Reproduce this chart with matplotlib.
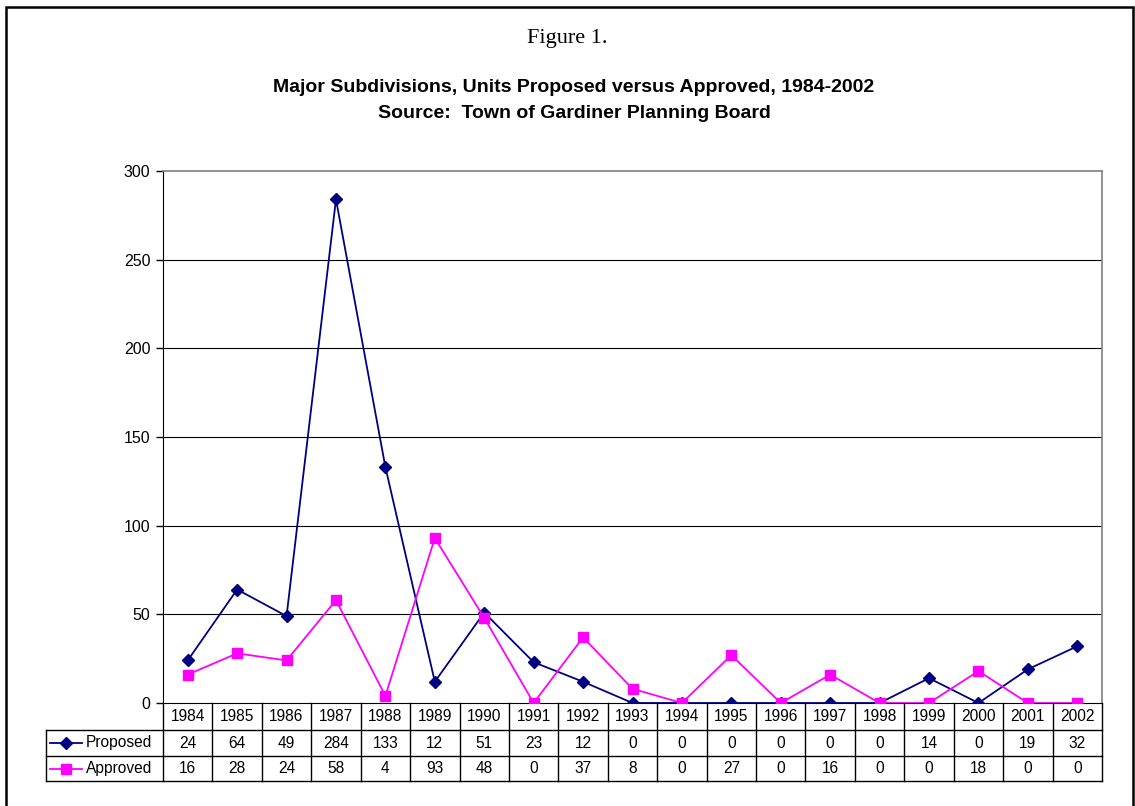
import numpy as np
import matplotlib
matplotlib.use("Agg")
from matplotlib import pyplot as plt
from matplotlib.patches import Rectangle
from matplotlib.lines import Line2D
from matplotlib.transforms import blended_transform_factory

years = ['1984', '1985', '1986', '1987', '1988', '1989', '1990', '1991', '1992', '1993',
         '1994', '1995', '1996', '1997', '1998', '1999', '2000', '2001', '2002']
proposed = [24, 64, 49, 284, 133, 12, 51, 23, 12, 0, 0, 0, 0, 0, 0, 14, 0, 19, 32]
approved = [16, 28, 24, 58, 4, 93, 48, 0, 37, 8, 0, 27, 0, 16, 0, 0, 18, 0, 0]
yticks = [0, 50, 100, 150, 200, 250, 300]

navy = '#000080'
magenta = '#FF00FF'
sans = ['Liberation Sans', 'DejaVu Sans']
fs = 11.2

W, H = 1135, 806
fig = plt.figure(figsize=(W / 100, H / 100), dpi=100)

# outer frame
fig.patches.append(Rectangle((6 / W, -0.01), (1133 - 6) / W, 1.01 - 7 / H, transform=fig.transFigure,
                             fill=False, edgecolor='black', linewidth=1.8))

fig.text(567 / W, 1 - 38 / H, 'Figure 1.', ha='center', va='center',
         family=['Liberation Serif', 'DejaVu Serif'], fontsize=16)
fig.text(574 / W, 1 - 88 / H, 'Major Subdivisions, Units Proposed versus Approved, 1984-2002',
         ha='center', va='center', family=sans, fontsize=14, fontweight='bold')
fig.text(574 / W, 1 - 113 / H, 'Source:  Town of Gardiner Planning Board',
         ha='center', va='center', family=sans, fontsize=14, fontweight='bold')

left, right, top, bottom = 163, 1102, 171, 703
ax = fig.add_axes([left / W, 1 - bottom / H, (right - left) / W, (bottom - top) / H])

x = np.arange(len(years))
ax.plot(x, proposed, color=navy, marker='D', markersize=6.5, linewidth=1.3, zorder=3)
ax.plot(x, approved, color=magenta, marker='s', markersize=6.5, linewidth=1.3, zorder=3)

ax.set_xlim(-0.5, len(years) - 0.5)
ax.set_ylim(0, 300)
ax.set_yticks(yticks)
ax.set_yticklabels([str(t) for t in yticks], family=sans, fontsize=11.5)
ax.set_xticks([])
ax.tick_params(axis='y', direction='out', length=5, width=1, pad=4)
for t in yticks[1:-1]:
    ax.axhline(t, color='black', linewidth=0.8, zorder=1)
ax.spines['left'].set_color('black')
ax.spines['bottom'].set_color('black')
for side in ['top', 'right']:
    ax.spines[side].set_color('#808080')
    ax.spines[side].set_linewidth(1.2)

# data table below the axes
trans = blended_transform_factory(ax.transData, ax.transAxes)
ah = bottom - top
row_edges = [0, -(730 - bottom) / ah, -(756 - bottom) / ah, -(781 - bottom) / ah]
lab_left = (46 - left) / (right - left) * len(years) - 0.5

kw = dict(transform=trans, clip_on=False, color='black', linewidth=1)
for i in range(len(years) + 1):
    ax.add_line(Line2D([i - 0.5, i - 0.5], [row_edges[0], row_edges[3]], **kw))
for r in row_edges[1:]:
    ax.add_line(Line2D([lab_left, len(years) - 0.5], [r, r], **kw))
ax.add_line(Line2D([lab_left, lab_left], [row_edges[1], row_edges[3]], **kw))

rows = [years, [str(v) for v in proposed], [str(v) for v in approved]]
for r, vals in enumerate(rows):
    yc = (row_edges[r] + row_edges[r + 1]) / 2
    for i, v in enumerate(vals):
        ax.text(i, yc, v, transform=trans, ha='center', va='center',
                family=sans, fontsize=fs, clip_on=False)

# legend keys in the label column
key_x0 = lab_left + 0.08
key_x1 = lab_left + 0.73
for r, (name, col, mk, ms) in enumerate([('Proposed', navy, 'D', 6), ('Approved', magenta, 's', 6.5)]):
    yc = (row_edges[r + 1] + row_edges[r + 2]) / 2
    ax.add_line(Line2D([key_x0, key_x1], [yc, yc], transform=trans, clip_on=False, color=col, linewidth=1.3))
    ax.add_line(Line2D([(key_x0 + key_x1) / 2], [yc], transform=trans, clip_on=False, color=col,
                       marker=mk, markersize=ms, linestyle='none'))
    ax.text(key_x1 + 0.08, yc, name, transform=trans, ha='left', va='center',
            family=sans, fontsize=fs, clip_on=False)

fig.savefig('out.png', dpi=100)
